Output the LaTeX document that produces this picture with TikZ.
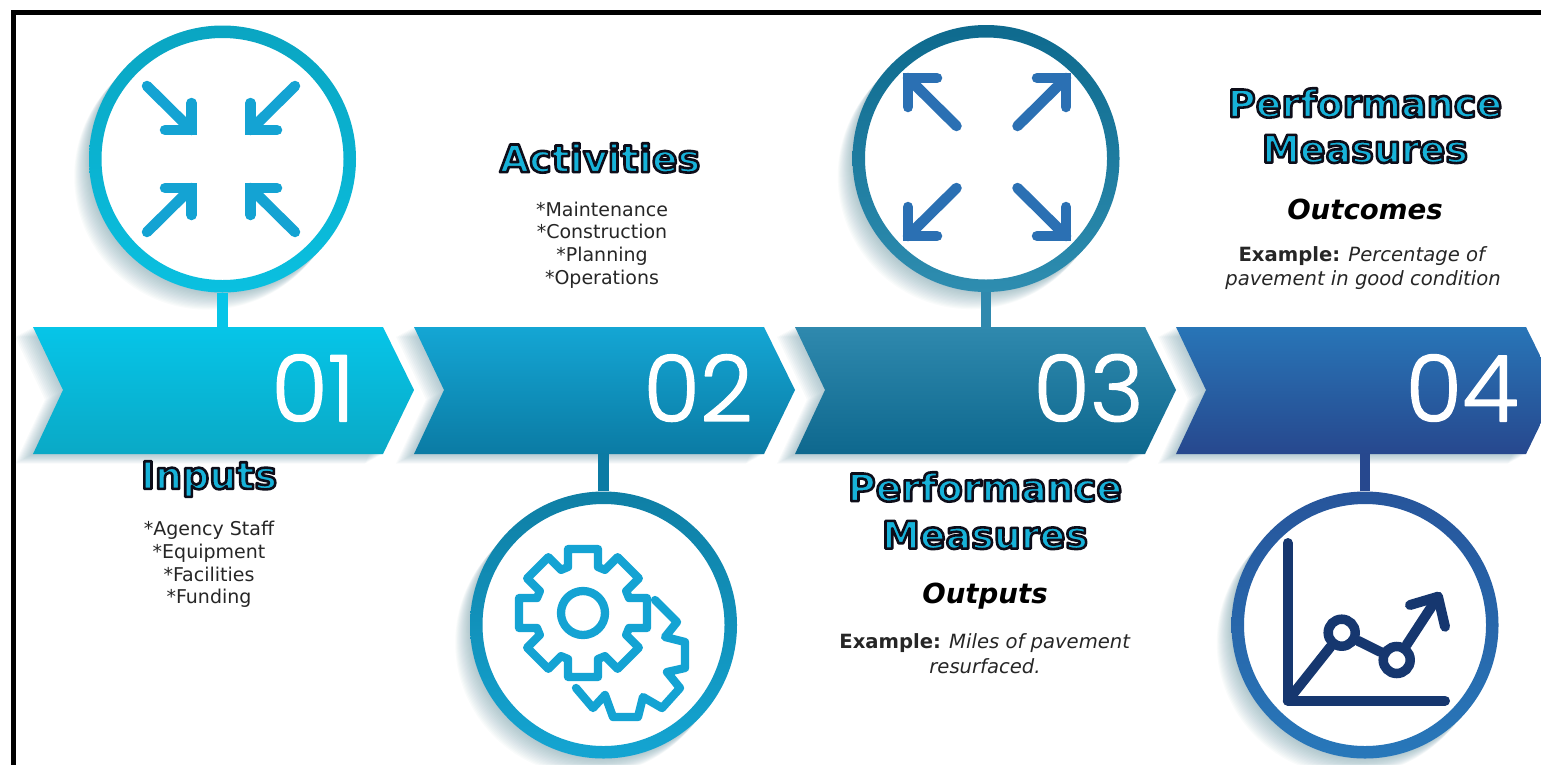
\documentclass[tikz,border=0pt]{standalone}
\usepackage{fontspec}
\setmainfont{DejaVu Sans}
\newfontfamily\numfont{Poppins}[UprightFont=* Light]
\usetikzlibrary{calc}
\definecolor{titlecyan}{HTML}{17B2D9}
\definecolor{arrowa}{HTML}{14A3D3}
\definecolor{arrowb}{HTML}{2B70B3}
\definecolor{chartc}{HTML}{16376F}
\definecolor{shadowc}{HTML}{4F8798}
\definecolor{aTop}{HTML}{06C5E8}\definecolor{aBot}{HTML}{0AA9C6}
\definecolor{bTop}{HTML}{14A6D4}\definecolor{bBot}{HTML}{0B7BA4}
\definecolor{cTop}{HTML}{2F89AE}\definecolor{cBot}{HTML}{0E688E}
\definecolor{dTop}{HTML}{2875B7}\definecolor{dBot}{HTML}{27488E}
\definecolor{raTop}{HTML}{0AA5C2}\definecolor{raBot}{HTML}{0AC0E0}
\definecolor{rbTop}{HTML}{0F7FA5}\definecolor{rbBot}{HTML}{14A5D2}
\definecolor{rcTop}{HTML}{0E6A8E}\definecolor{rcBot}{HTML}{2E8DB0}
\definecolor{rdTop}{HTML}{27559B}\definecolor{rdBot}{HTML}{2878BA}
\newcommand{\outlined}[1]{{\color{titlecyan}\special{pdf:code 2 Tr 2.6 w 1 j 0.05 0.05 0.1 RG}#1\special{pdf:code 0 Tr}}}
\newcommand{\heavywhite}[1]{{\color{white}\special{pdf:code 2 Tr 1.3 w 1 j 1 1 1 RG}#1\special{pdf:code 0 Tr}}}
\newcommand{\chevpath}[1]{(#1,327) -- ++(350,0) -- ++(31,63) -- ++(-31,64) -- ++(-350,0) -- ++(30,-64) -- cycle}
\newcommand{\chevron}[4]{%
  \foreach \i in {1,...,12}{\fill[shadowc,opacity=.04,shift={(-1.5*\i,0.8*\i)}] \chevpath{#1};}
  \shade[top color=#2,bottom color=#3] \chevpath{#1};
  \node[chevbox] (#4) at (#1+175,390.5) {};}
\newcommand{\ring}[5]{%
  \foreach \i in {1,...,16}{\fill[shadowc,opacity=.03] (#1-0.95*\i,#2+1.1*\i) circle (133pt);}
  \fill[white] (#1,#2) circle (133pt);
  \shade[top color=#3,bottom color=#4,even odd rule] (#1,#2) circle (133.5pt) (#1,#2) circle (121pt);
  \node[ringbox] (#5) at (#1,#2) {};}
\tikzset{
  chevbox/.style={minimum width=350pt,minimum height=127pt,inner sep=0pt,draw=none},
  ringbox/.style={circle,minimum size=267pt,inner sep=0pt,draw=none},
  stemline/.style={line width=10.5pt},
  iconline/.style={line width=10.5pt,line cap=round,line join=miter},
  gearline/.style={line width=8.3pt,line cap=round,line join=round,draw=arrowa},
  chartline/.style={line width=10pt,line cap=round,line join=round,draw=chartc},
  numlabel/.style={text=white,font=\numfont\fontsize{92}{100}\selectfont,inner sep=0pt,anchor=center},
  titlebig/.style={font=\bfseries\fontsize{38}{46}\selectfont,inner sep=0pt,align=center},
  bodytext/.style={font=\fontsize{19}{22.7}\selectfont,text=black!85,inner sep=0pt,align=center},
  exampletext/.style={font=\fontsize{19.6}{24.7}\selectfont,text=black!85,inner sep=0pt,align=center},
  subhead/.style={font=\bfseries\itshape\fontsize{27.6}{32}\selectfont,inner sep=0pt},
}
\begin{document}
\begin{tikzpicture}[x=1pt,y=-1pt]
\useasboundingbox (0,0) rectangle (1541,764);
\clip (0,0) rectangle (1541,764);
\fill[white] (0,0) rectangle (1541,764);
\draw[line width=5.2pt] (13.5,770) -- (13.5,12.5) -- (1550,12.5);

% rings
\ring{222.5}{159}{raTop}{raBot}{r1}
\ring{603.5}{625}{rbTop}{rbBot}{r2}
\ring{986}{158.5}{rcTop}{rcBot}{r3}
\ring{1365}{625}{rdTop}{rdBot}{r4}

% chevrons
\chevron{33}{aTop}{aBot}{ch1}
\chevron{414}{bTop}{bBot}{ch2}
\chevron{795}{cTop}{cBot}{ch3}
\chevron{1176}{dTop}{dBot}{ch4}

% stems
\draw[stemline,draw=aTop] (r1.south) -- (r1.south |- ch1.north);
\draw[stemline,draw=bBot] (r2.north) -- (r2.north |- ch2.south);
\draw[stemline,draw=cTop] (r3.south) -- (r3.south |- ch3.north);
\draw[stemline,draw=dBot] (r4.north) -- (r4.north |- ch4.south);

% numbers
\node[numlabel] (n1) at (313,388) {\heavywhite{01}};
\node[numlabel] (n2) at (698,388) {\heavywhite{02}};
\node[numlabel] (n3) at (1088.5,388) {\heavywhite{03}};
\node[numlabel] (n4) at (1462,388) {\heavywhite{04}};

% icon 1: arrows in
\begin{scope}[shift={(221,159)}]
\foreach \sx/\sy in {-1/-1,1/-1,-1/1,1/1}{
  \draw[iconline,draw=arrowa] (\sx*74,\sy*73) -- (\sx*29.5,\sy*29);
  \draw[iconline,draw=arrowa] (\sx*29.5,\sy*56) -- (\sx*29.5,\sy*29) -- (\sx*56,\sy*29);
}
\end{scope}

% icon 3: arrows out
\begin{scope}[shift={(987,157)}]
\foreach \sx/\sy in {-1/-1,1/-1,-1/1,1/1}{
  \draw[iconline,draw=arrowb] (\sx*30.5,\sy*31) -- (\sx*79,\sy*79);
  \draw[iconline,draw=arrowb] (\sx*79,\sy*50) -- (\sx*79,\sy*79) -- (\sx*50,\sy*79);
}
\end{scope}

% icon 2: gears
\draw[gearline] (583,613) circle (22pt);
\begin{scope}[shift={(583,613)}]
\draw[gearline] (-18:48.4)
  \foreach \a in {0,45,...,315}{
    -- (\a-18:48.4) -- (\a-13.2:65.7) -- (\a+13.2:65.7) -- (\a+18:48.4)
  } -- cycle;
\end{scope}
\draw[gearline] (576,688) -- (593,708) -- (605,695) -- (613,717) -- (638,717) -- (643,697) -- (662,708) -- (680,688) -- (667,672) -- (685,668) -- (685,642) -- (665,637) -- (677,622) -- (655,600);

% icon 4: chart
\draw[chartline] (1287.7,543) -- (1287.7,700.7) -- (1445,700.7);
\node[circle,draw=chartc,line width=9.5pt,minimum size=27pt,inner sep=0pt] (p1) at (1341.7,632.7) {};
\node[circle,draw=chartc,line width=9.5pt,minimum size=27pt,inner sep=0pt] (p2) at (1396.7,660) {};
\coordinate (origin) at (1287.7,700.7);
\coordinate (tip) at (1438,596.7);
\draw[chartline] (origin) -- (p1);
\draw[chartline] (p1) -- (p2);
\draw[chartline] (p2) -- (tip);
\draw[chartline] (1410,605) -- (tip) -- (1445,626.7);

% titles
\node[titlebig] (t1) at (209,479) {\outlined{Inputs}};
\node[titlebig] (t2) at (600,158) {\outlined{Activities}};
\node[titlebig] (t3a) at (985,487) {\outlined{Performance}};
\node[titlebig] (t3b) at (985,535) {\outlined{Measures}};
\node[titlebig] (t4a) at (1365,103) {\outlined{Performance}};
\node[titlebig] (t4b) at (1365,149) {\outlined{Measures}};

% lists
\node[bodytext] (l1) at (209,564.5) {*Agency Staff\\*Equipment\\*Facilities\\*Funding};
\node[bodytext] (l2) at (602,245) {*Maintenance\\*Construction\\*Planning\\*Operations};

% sub-heads
\node[subhead] (s3) at (985,596) {Outputs};
\node[subhead] (s4) at (1365,209) {Outcomes};
\node[exampletext] (e3) at (985,654) {\textbf{Example:} \textit{Miles of pavement}\\\textit{resurfaced.}};
\node[exampletext] (e4) at (1363,268) {\textbf{Example:} \textit{Percentage of}\\\textit{pavement in good condition}};
\end{tikzpicture}
\end{document}
